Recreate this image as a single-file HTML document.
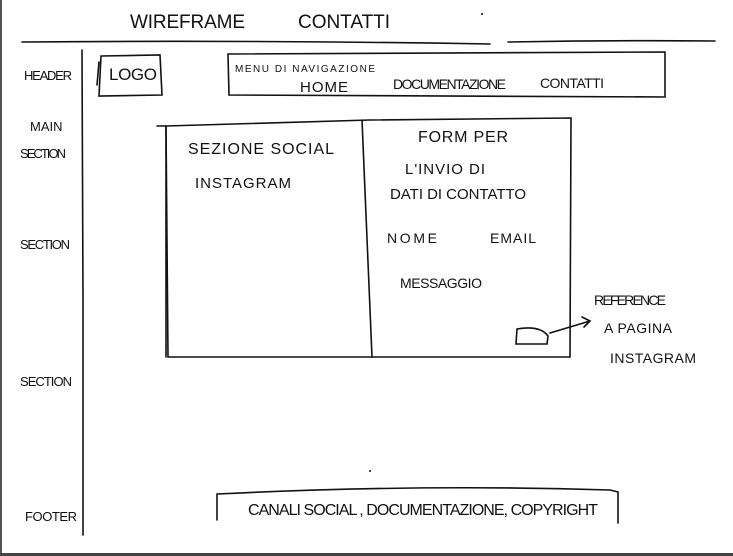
<!DOCTYPE html>
<html><head><meta charset="utf-8"><style>
html,body{margin:0;padding:0;background:#fff;}
svg{display:block;}
text{font-family:"Liberation Sans",sans-serif;fill:#111;}
</style></head><body>
<svg width="733" height="556" viewBox="0 0 733 556" xmlns="http://www.w3.org/2000/svg">
<rect x="0" y="0" width="733" height="556" fill="#fff"/>
<rect x="0" y="0" width="2" height="556" fill="#555"/>
<rect x="0" y="553" width="733" height="3" fill="#444"/>
<g stroke="#111" stroke-width="1.6" fill="none" stroke-linecap="round">
<path d="M22 42 Q250 40 490 44"/>
<path d="M508 42 Q610 40 715 41"/>
<path d="M82 50 L83 300 L83 535"/>
<path d="M101 56 L160 55 L162 95 L99 96 Z M97 85 L99 62"/>
<path d="M228 54 L665 52 L665 97 L229 95 Z"/>
<path d="M166 126 L370 120 L571 118 L570 357 L168 357 Z"/>
<path d="M157 126 L166 126 L166 357"/>
<path d="M362 120 L372 357"/>
<path d="M516 344 L517 329 Q540 325 548 336 L547 344 Z"/>
<path d="M550 333 L590 321 M582 317 L590 321 L584 327"/>
<path d="M217 520 L217 494 Q420 484 610 490 L618 492 L618 523"/>
</g>
<circle cx="482" cy="14" r="1" fill="#111"/>
<circle cx="370" cy="471" r="1" fill="#111"/>
<g font-size="19"><text x="130" y="28" textLength="115">WIREFRAME</text><text x="298" y="28" textLength="92">CONTATTI</text></g>
<g font-size="14">
<text x="24" y="80" textLength="48" font-size="13">HEADER</text>
<text x="30" y="131" font-size="13">MAIN</text>
<text x="20" y="158" font-size="13" textLength="46">SECTION</text>
<text x="20" y="249" font-size="13" textLength="50">SECTION</text>
<text x="20" y="386" font-size="13" textLength="52">SECTION</text>
<text x="25" y="521" font-size="13" textLength="52">FOOTER</text>
<text x="109" y="80" font-size="17" textLength="48">LOGO</text>
<text x="235" y="72" font-size="10" textLength="140">MENU DI NAVIGAZIONE</text>
<text x="300" y="92" font-size="15" textLength="48">HOME</text>
<text x="393" y="89" textLength="113">DOCUMENTAZIONE</text>
<text x="540" y="88" textLength="64">CONTATTI</text>
<text x="188" y="154" font-size="16" textLength="146">SEZIONE SOCIAL</text>
<text x="195" y="188" font-size="15" textLength="96">INSTAGRAM</text>
<text x="418" y="142" font-size="16" textLength="90">FORM PER</text>
<text x="405" y="174" font-size="15" textLength="80">L'INVIO DI</text>
<text x="390" y="199" font-size="15" textLength="136">DATI DI CONTATTO</text>
<text x="387" y="243" textLength="50">NOME</text>
<text x="490" y="243" textLength="46">EMAIL</text>
<text x="400" y="288" textLength="82">MESSAGGIO</text>
<text x="594" y="305" textLength="72">REFERENCE</text>
<text x="604" y="333" textLength="68">A PAGINA</text>
<text x="610" y="363" textLength="86">INSTAGRAM</text>
<text x="248" y="515" font-size="16" textLength="350">CANALI SOCIAL , DOCUMENTAZIONE, COPYRIGHT</text>
</g>
</svg>
</body></html>
